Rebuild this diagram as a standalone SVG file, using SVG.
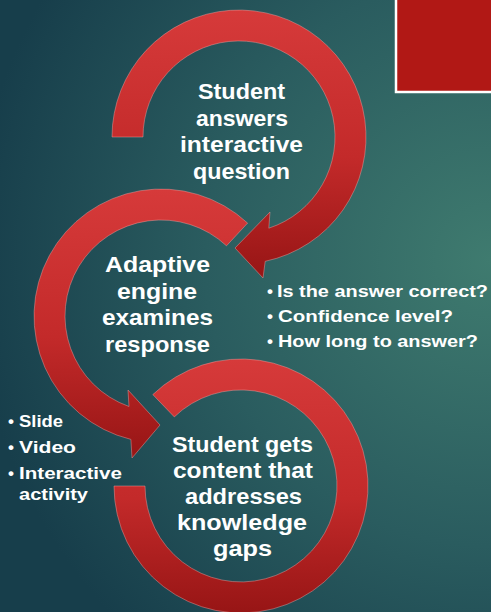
<svg xmlns="http://www.w3.org/2000/svg" width="491" height="612" viewBox="0 0 491 612">
  <defs>
    <radialGradient id="bg" cx="491" cy="260" r="520" gradientUnits="userSpaceOnUse">
      <stop offset="0" stop-color="#3f7b6f"/>
      <stop offset="0.55" stop-color="#2a5c5f"/>
      <stop offset="1" stop-color="#173e4b"/>
    </radialGradient>
    <linearGradient id="red" x1="0" y1="0" x2="0" y2="1">
      <stop offset="0" stop-color="#d63a3a"/>
      <stop offset="0.55" stop-color="#c32a2a"/>
      <stop offset="1" stop-color="#971515"/>
    </linearGradient>
    <style>
      .band { fill: url(#red); stroke: #f2a0a0; stroke-opacity: 0.45; stroke-width: 1; }
      .t { font-family: "Liberation Sans", Arial, sans-serif; font-weight: 700; fill: #ffffff; }
      .big { font-size: 22px; text-anchor: middle; }
      .small { font-size: 17px; }
    </style>
  </defs>

  <rect x="0" y="0" width="491" height="612" fill="url(#bg)"/>

  <!-- decorative red box -->
  <rect x="396" y="-5" width="100" height="97" fill="#b11815" stroke="#ffffff" stroke-width="2.5"/>

  <g id="connectors">
    <path id="arc-top" class="band" d="M112,137 A127,127 0 1 1 265.2,261.3 L263,278 L235,248 L270,212 L268.8,228.2 A96,96 0 1 0 143,137 Z"/>
    <path id="arc-middle" class="band" d="M247.6,223.1 A127,127 0 1 0 130.9,439.4 L132,458 L160,425 L128,390 L129,406.5 A96,96 0 1 1 226.5,245.8 Z"/>
    <path id="arc-bottom" class="band" d="M152.8,394.6 A127,127 0 1 1 114,486 L145,486 A96,96 0 1 0 174.3,416.9 Z"/>
  </g>

  <g id="node-answer">
    <text class="t big" x="241.5" y="99" textLength="87" lengthAdjust="spacingAndGlyphs">Student</text>
    <text class="t big" x="242" y="125.5" textLength="92" lengthAdjust="spacingAndGlyphs">answers</text>
    <text class="t big" x="241.5" y="152" textLength="123" lengthAdjust="spacingAndGlyphs">interactive</text>
    <text class="t big" x="241.5" y="178.5" textLength="97" lengthAdjust="spacingAndGlyphs">question</text>
  </g>

  <g id="node-examine">
    <text class="t big" x="157.5" y="272" textLength="105" lengthAdjust="spacingAndGlyphs">Adaptive</text>
    <text class="t big" x="157" y="298.5" textLength="80" lengthAdjust="spacingAndGlyphs">engine</text>
    <text class="t big" x="157.5" y="325" textLength="111" lengthAdjust="spacingAndGlyphs">examines</text>
    <text class="t big" x="157.5" y="351.5" textLength="105" lengthAdjust="spacingAndGlyphs">response</text>
  </g>

  <g id="node-content">
    <text class="t big" x="242.5" y="451.5" textLength="141" lengthAdjust="spacingAndGlyphs">Student gets</text>
    <text class="t big" x="243" y="477.5" textLength="140" lengthAdjust="spacingAndGlyphs">content that</text>
    <text class="t big" x="243.5" y="503.5" textLength="117" lengthAdjust="spacingAndGlyphs">addresses</text>
    <text class="t big" x="242" y="529.5" textLength="130" lengthAdjust="spacingAndGlyphs">knowledge</text>
    <text class="t big" x="242.5" y="555.5" textLength="59" lengthAdjust="spacingAndGlyphs">gaps</text>
  </g>

  <g id="list-checks">
    <text class="t small" x="267" y="297">•<tspan x="277" textLength="211" lengthAdjust="spacingAndGlyphs">Is the answer correct?</tspan></text>
    <text class="t small" x="267" y="322">•<tspan x="278" textLength="175" lengthAdjust="spacingAndGlyphs">Confidence level?</tspan></text>
    <text class="t small" x="267" y="347">•<tspan x="278" textLength="200" lengthAdjust="spacingAndGlyphs">How long to answer?</tspan></text>
  </g>

  <g id="list-content">
    <text class="t small" x="8" y="427">•<tspan x="19" textLength="44" lengthAdjust="spacingAndGlyphs">Slide</tspan></text>
    <text class="t small" x="8" y="453">•<tspan x="19" textLength="57" lengthAdjust="spacingAndGlyphs">Video</tspan></text>
    <text class="t small" x="8" y="479">•<tspan x="19" textLength="103" lengthAdjust="spacingAndGlyphs">Interactive</tspan></text>
    <text class="t small" x="19" y="500" textLength="69" lengthAdjust="spacingAndGlyphs">activity</text>
  </g>
</svg>
